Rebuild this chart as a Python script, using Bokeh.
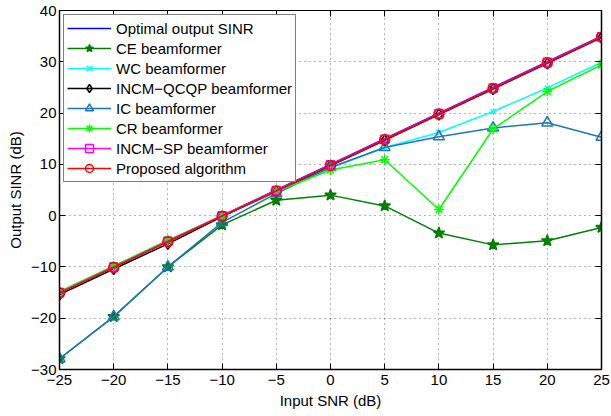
from bokeh.plotting import figure
from bokeh.models import LinearAxis, FixedTicker, Range1d, Legend
from bokeh.embed import file_html
from bokeh.resources import INLINE

input_snr = [-25, -20, -15, -10, -5, 0, 5, 10, 15, 20, 25]
optimal = [-15.0, -10.0, -5.0, 0.0, 5.0, 10.0, 15.0, 20.0, 25.0, 30.0, 35.0]
ce = [-27.9, -19.7, -10.0, -1.8, 3.0, 4.0, 1.9, -3.4, -5.7, -4.9, -2.3]
wc = [-15.0, -10.0, -5.0, 0.0, 4.8, 9.3, 13.3, 16.2, 20.3, 24.9, 29.9]
qcqp = [-15.4, -10.4, -5.5, -0.2, 4.7, 9.7, 14.7, 19.7, 24.7, 29.7, 34.7]
ic = [-27.9, -19.7, -10.0, -1.3, 4.3, 9.4, 13.3, 15.4, 17.1, 18.1, 15.3]
cr = [-14.8, -9.8, -4.8, 0.0, 4.7, 8.9, 10.9, 1.2, 16.9, 24.2, 29.4]
incm_sp = [-15.0, -10.0, -5.0, 0.0, 4.9, 9.9, 14.9, 19.9, 24.9, 29.9, 34.9]
proposed = [-15.1, -10.1, -5.1, -0.1, 4.8, 9.8, 14.8, 19.8, 24.8, 29.8, 34.8]

x_ticks = [-25, -20, -15, -10, -5, 0, 5, 10, 15, 20, 25]
x_tick_labels = ["\u221225", "\u221220", "\u221215", "\u221210", "\u22125", "0", "5", "10", "15", "20", "25"]
y_ticks = [-30, -20, -10, 0, 10, 20, 30, 40]
y_tick_labels = ["\u221230", "\u221220", "\u221210", "0", "10", "20", "30", "40"]

FONT = "Liberation Sans"
FS = "15px"

p = figure(width=611, height=416, output_backend="svg", toolbar_location=None,
           x_range=Range1d(-25, 25), y_range=Range1d(-30, 40),
           min_border_left=59, min_border_right=10, min_border_top=10, min_border_bottom=47)
p.background_fill_color = "white"
p.border_fill_color = "white"
p.outline_line_color = "black"
p.outline_line_width = 1

p.xaxis.ticker = FixedTicker(ticks=x_ticks)
p.yaxis.ticker = FixedTicker(ticks=y_ticks)
p.xaxis.major_label_overrides = dict(zip(x_ticks, x_tick_labels))
p.yaxis.major_label_overrides = dict(zip(y_ticks, y_tick_labels))
p.xaxis.axis_label = "Input SNR (dB)"
p.yaxis.axis_label = "Output SINR (dB)"
for ax in (p.xaxis, p.yaxis):
    ax.major_label_text_font = FONT
    ax.major_label_text_font_size = FS
    ax.major_label_text_color = "black"
    ax.axis_label_text_font = FONT
    ax.axis_label_text_font_size = FS
    ax.axis_label_text_font_style = "normal"
    ax.axis_label_text_color = "black"
    ax.major_tick_in = 6
    ax.major_tick_out = 0
    ax.minor_tick_line_color = None
    ax.axis_line_color = "black"
    ax.axis_line_width = 1.5
    ax.major_tick_line_color = "black"
    ax.axis_label_standoff = 4
p.xaxis.major_label_standoff = 5
p.yaxis.major_label_standoff = 3

top = LinearAxis(ticker=FixedTicker(ticks=x_ticks),
                 major_label_overrides={t: "" for t in x_ticks},
                 major_tick_in=6, major_tick_out=0, minor_tick_line_color=None,
                 major_label_standoff=0, axis_line_color="black")
right = LinearAxis(ticker=FixedTicker(ticks=y_ticks),
                   major_label_overrides={t: "" for t in y_ticks},
                   major_tick_in=6, major_tick_out=0, minor_tick_line_color=None,
                   major_label_standoff=0, axis_line_color="black", axis_line_width=1.5)
p.add_layout(top, "above")
p.add_layout(right, "right")

p.xgrid.ticker = FixedTicker(ticks=x_ticks)
p.ygrid.ticker = FixedTicker(ticks=y_ticks)
for g in (p.xgrid, p.ygrid):
    g.grid_line_color = "black"
    g.grid_line_alpha = 0.6
    g.grid_line_dash = "1 4"
    g.grid_line_width = 1

series = [
    ("Optimal output SINR", optimal, "#0000ff", None, 0),
    ("CE beamformer", ce, "#008000", "star", 12),
    ("WC beamformer", wc, "#00ffff", "x", 7),
    ("INCM\u2212QCQP beamformer", qcqp, "#000000", "diamond", 11),
    ("IC beamformer", ic, "#1a76c0", "triangle", 11),
    ("CR beamformer", cr, "#00ff00", "asterisk", 10),
    ("INCM\u2212SP beamformer", incm_sp, "#ff00ff", "square", 8),
    ("Proposed algorithm", proposed, "#ff0000", "circle", 10),
]

items = []
for name, ys, color, marker, size in series:
    rs = [p.line(input_snr, ys, line_color=color, line_width=1.5)]
    if marker is not None:
        fill = color if marker == "star" else None
        rs.append(p.scatter(input_snr, ys, marker=marker, size=size, line_color=color,
                            fill_color=fill, line_width=1.5))
    items.append((name, rs))

legend = Legend(items=items, location="top_left")
legend.label_text_font = FONT
legend.label_text_font_size = FS
legend.label_text_color = "black"
legend.border_line_color = "black"
legend.border_line_width = 1.5
legend.background_fill_color = "white"
legend.background_fill_alpha = 1
legend.glyph_width = 44
legend.glyph_height = 20
legend.label_height = 20
legend.label_standoff = 5
legend.spacing = 0
legend.padding = 3
legend.margin = 4
p.add_layout(legend, "center")

open("out.html", "w").write(file_html(p, INLINE))
